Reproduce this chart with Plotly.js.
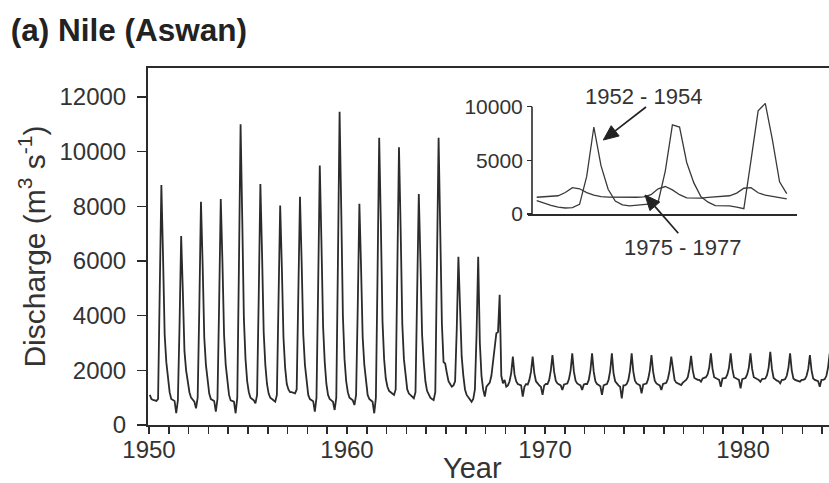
<!DOCTYPE html>
<html>
<head>
<meta charset="utf-8">
<script src="https://cdn.plot.ly/plotly-3.0.1.min.js"></script>
<style>html,body{margin:0;padding:0;background:#fff;}#chart{width:829px;height:483px;}</style>
</head>
<body>
<div id="chart"></div>
<script>
// ---- Main series: monthly discharge at Aswan (m3/s), Jan..Dec per year ----
const years = [1950,1951,1952,1953,1954,1955,1956,1957,1958,1959,1960,1961,1962,1963,1964,1965,1966,1967,
               1968,1969,1970,1971,1972,1973,1974,1975,1976,1977,1978,1979,1980,1981,1982,1983,1984];
const monthlyDischarge = [
  [1100, 950, 920, 900, 880, 950,4500, 8780,6200,3300,2300,1600], // 1950
  [1200, 950, 900, 880, 430, 900,3600, 6915,4900,2700,2000,1500], // 1951
  [1200,1000, 900, 850, 610,1000,4300, 8170,5900,3200,2200,1600], // 1952
  [1150, 950, 900, 880, 490, 950,4400, 8270,6000,3300,2200,1500], // 1953
  [1100, 900, 880, 850, 430,1000,5800,11000,7600,3900,2400,1600], // 1954
  [1200,1000, 950, 900, 790,1100,4700, 8820,6300,3400,2200,1500], // 1955
  [1150,1000, 950, 900, 850,1100,4200, 8030,5800,3200,2100,1500], // 1956
  [1300,1200,1200,1180,1160,1300,4400, 8350,6000,3300,2200,1500], // 1957
  [1100, 950, 900, 870, 490,1000,5000, 9490,6700,3600,2300,1500], // 1958
  [1100, 950, 900, 850, 550,1000,6000,11460,7900,4000,2400,1600], // 1959
  [1200,1000, 950, 900, 730,1100,4300, 8090,5800,3200,2200,1500], // 1960
  [1100, 950, 900, 850, 430,1000,5500,10510,7400,3800,2400,1700], // 1961
  [1400,1250,1200,1150,1100,1300,5300,10160,7200,3700,2400,1700], // 1962
  [1300,1150,1100,1050, 980,1200,4500, 8450,6000,3300,2300,1600], // 1963
  [1250,1100,1000, 950, 915,1200,5500,10510,7100,3700,2300,2250], // 1964
  [1900,1600,1500,1400,1450,1600,3500, 6150,4300,2500,1800,1300], // 1965
  [1100,1000, 900, 850, 950,1300,3300, 6150,3000,1800,1300,1040], // 1966
  [1400,1500,1550,1800,2400,3000,3360, 3400,4760,1800,1525,1650], // 1967
  [1400,1450,1600,1900,2500,1850,1600, 1500,1480,1450,1040,1400], // 1968
  [1500,1480,1650,1950,2500,1900,1600, 1500,1450,1400,1100,1450], // 1969
  [1500,1500,1650,2000,2560,1950,1620, 1520,1480,1450,1280,1480], // 1970
  [1500,1520,1680,2000,2620,1950,1620, 1520,1480,1450,1280,1480], // 1971
  [1500,1500,1650,2000,2620,1950,1600, 1500,1460,1420,1100,1450], // 1972
  [1480,1500,1650,2000,2620,1900,1600, 1500,1450,1400, 975,1450], // 1973
  [1450,1500,1650,2000,2620,1950,1620, 1520,1480,1450,1160,1480], // 1974
  [1500,1520,1680,2000,2560,1950,1620, 1520,1480,1450,1280,1500], // 1975
  [1520,1540,1700,2000,2500,1950,1650, 1550,1520,1500,1460,1550], // 1976
  [1600,1650,1750,2050,2530,2000,1720, 1680,1650,1650,1585,1700], // 1977
  [1720,1750,1850,2100,2620,2050,1750, 1700,1680,1650,1400,1700], // 1978
  [1700,1720,1850,2100,2620,2050,1750, 1700,1680,1650,1340,1680], // 1979
  [1700,1720,1850,2100,2620,2050,1750, 1700,1680,1650,1585,1680], // 1980
  [1680,1700,1820,2100,2680,2050,1720, 1650,1620,1600,1525,1650], // 1981
  [1650,1680,1800,2100,2620,2000,1700, 1650,1620,1600,1585,1650], // 1982
  [1650,1680,1800,2050,2560,2000,1700, 1650,1620,1600,1400,1650], // 1983
  [1650,1680,1800,2100,2620,2000,1700, 1650,1620,1600,1500,1650]  // 1984
];

// ---- Inset: 36 months of each period ----
const insetMonths = [1,2,3,4,5,6,7,8,9,10,11,12,13,14,15,16,17,18,19,20,21,22,23,24,25,26,27,28,29,30,31,32,33,34,35,36];
const flow1952_1954 = [1250,1000,800,650,560,600,900,3500,8100,4500,2300,1200,
                       850,750,820,900,950,1100,4000,8300,8100,4800,2900,1600,
                       1100,780,800,760,650,500,5000,9600,10300,6900,3000,1900];
const flow1975_1977 = [1560,1600,1620,1700,2000,2450,2350,2000,1750,1620,1580,1560,
                       1580,1570,1560,1600,1800,2350,2560,2250,1800,1500,1470,1480,
                       1550,1600,1620,1700,1950,2400,2450,1980,1750,1650,1560,1400];

const yTickVals = [0,2000,4000,6000,8000,10000,12000];
const xTickVals = [1950,1960,1970,1980];
const insetTickVals = [0,5000,10000];

// flatten monthly series onto a time axis (mid-month positions)
const t = [], q = [];
years.forEach((yr, i) => {
  monthlyDischarge[i].forEach((v, m) => { t.push(yr + (m + 0.5) / 12); q.push(v); });
});

const FONT = 'Liberation Sans, Arial, Helvetica, sans-serif';
const INK = '#2b2b2b';

// page-pixel -> paper helpers for the hand-drawn inset arrows
const PL = 148, PW = 681, PB = 425, PH = 357;
const px = v => (v - PL) / PW;
const py = v => (PB - v) / PH;
function arrowShapes(tail, tip, headLen, halfW) {
  const dx = tip[0] - tail[0], dy = tip[1] - tail[1];
  const L = Math.hypot(dx, dy), ux = dx / L, uy = dy / L, nx = -uy, ny = ux;
  const bx = tip[0] - headLen * ux, by = tip[1] - headLen * uy;
  const c1 = [bx + halfW * nx, by + halfW * ny], c2 = [bx - halfW * nx, by - halfW * ny];
  return [
    {type: 'line', xref: 'paper', yref: 'paper', x0: px(tail[0]), y0: py(tail[1]), x1: px(bx), y1: py(by),
     line: {color: '#222', width: 1.7}},
    {type: 'path', xref: 'paper', yref: 'paper',
     path: `M ${px(tip[0])} ${py(tip[1])} L ${px(c1[0])} ${py(c1[1])} L ${px(c2[0])} ${py(c2[1])} Z`,
     fillcolor: '#222', line: {color: '#222', width: 1}}
  ];
}

const traces = [
  {x: t, y: q, type: 'scatter', mode: 'lines', xaxis: 'x', yaxis: 'y',
   line: {color: INK, width: 1.8}, hoverinfo: 'skip', showlegend: false},
  {x: insetMonths, y: flow1952_1954, type: 'scatter', mode: 'lines', xaxis: 'x2', yaxis: 'y2',
   line: {color: '#3a3a3a', width: 1.3}, showlegend: false},
  {x: insetMonths, y: flow1975_1977, type: 'scatter', mode: 'lines', xaxis: 'x2', yaxis: 'y2',
   line: {color: '#3a3a3a', width: 1.3}, showlegend: false}
];

const layout = {
  width: 829, height: 483,
  margin: {l: 148, r: 0, t: 68, b: 58},
  paper_bgcolor: '#fff', plot_bgcolor: 'rgba(0,0,0,0)',
  font: {family: FONT, color: '#333'},
  showlegend: false,
  title: {text: '<b>(a) Nile (Aswan)</b>', font: {family: FONT, size: 31.5, color: '#222'},
          xref: 'container', yref: 'container', x: 0.013, xanchor: 'left', y: 0.938, yanchor: 'middle'},
  xaxis: {
    range: [1949.95, 1984.34], tickvals: xTickVals, tickformat: 'd',
    ticks: 'outside', ticklen: 7, tickwidth: 1.6, tickcolor: INK,
    minor: {dtick: 1, tick0: 1950, ticks: 'outside', ticklen: 7, tickwidth: 1.6, tickcolor: INK, showgrid: false},
    showline: true, linewidth: 2, linecolor: INK, mirror: true,
    showgrid: false, zeroline: false, ticklabelstandoff: -5,
    tickfont: {size: 24, color: '#333'}
  },
  yaxis: {
    range: [0, 13060], tickvals: yTickVals, tickformat: 'd',
    ticks: 'outside', ticklen: 9, tickwidth: 1.6, tickcolor: INK,
    showline: true, linewidth: 2, linecolor: INK, showgrid: false, zeroline: false,
    tickfont: {size: 24, color: '#333'}, ticklabelstandoff: 6,
    title: {text: 'Discharge (m<sup>3</sup> s<sup>-1</sup>)', font: {size: 30, color: '#333'}, standoff: 5}
  },
  xaxis2: {
    domain: [0.558, 0.953], anchor: 'y2', range: [-0.218, 37.44],
    showline: true, linewidth: 1.6, linecolor: INK, ticks: '', showticklabels: false,
    showgrid: false, zeroline: false
  },
  yaxis2: {
    domain: [0.591, 0.910], anchor: 'free', position: 0.5639, range: [0, 10605],
    tickvals: insetTickVals, tickformat: 'd', ticks: 'outside', ticklen: 5, tickwidth: 1.4, tickcolor: INK,
    showline: false, showgrid: false, zeroline: false,
    tickfont: {size: 21, color: '#333'}
  },
  shapes: [
    {type: 'line', xref: 'x2', yref: 'y2', x0: 0.342, x1: 0.342, y0: 0, y1: 10000,
     line: {color: INK, width: 1.6}},
    ...arrowShapes([646, 107], [603.3, 140], 15, 6.5),
    ...arrowShapes([678.3, 233.3], [645, 195], 15, 6.5)
  ],
  annotations: [
    {text: 'Year', xref: 'paper', yref: 'paper', x: px(472), y: py(468), showarrow: false,
     xanchor: 'center', yanchor: 'middle', font: {size: 29, color: '#333'}},
    {text: '1952 - 1954', xref: 'paper', yref: 'paper', x: px(643), y: py(96), showarrow: false,
     xanchor: 'center', yanchor: 'middle', font: {size: 22, color: '#333'}},
    {text: '1975 - 1977', xref: 'paper', yref: 'paper', x: px(682.5), y: py(247), showarrow: false,
     xanchor: 'center', yanchor: 'middle', font: {size: 22, color: '#333'}}
  ]
};

Plotly.newPlot('chart', traces, layout, {staticPlot: true, displayModeBar: false});
</script>
</body>
</html>
